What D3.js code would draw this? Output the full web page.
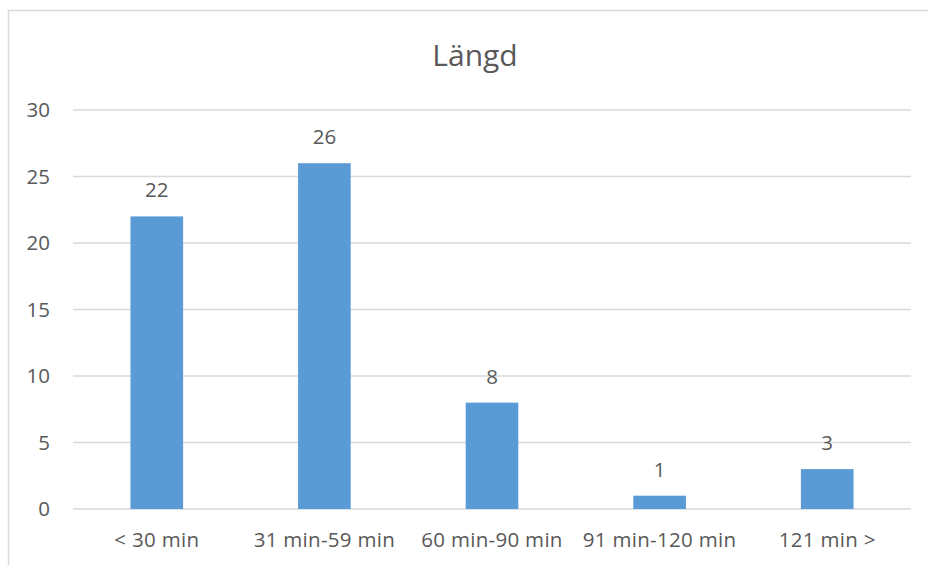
<!DOCTYPE html>
<html><head><meta charset="utf-8">
<script src="https://cdn.jsdelivr.net/npm/d3@7"></script>
<style>body{margin:0;background:#fff}svg{display:block}text{font-family:"Open Sans",sans-serif;fill:#595959}</style>
</head><body>
<svg id="c" width="928" height="565"></svg>
<script>
const categories = ["< 30 min","31 min-59 min","60 min-90 min","91 min-120 min","121 min >"];
const values = [22,26,8,1,3];
const yTicks = [0,5,10,15,20,25,30];
const title = "Längd";

const svg = d3.select("#c");
svg.append("rect").attr("x",8.5).attr("y",10.5).attr("width",940).attr("height",600)
  .attr("fill","none").attr("stroke","#d9d9d9").attr("stroke-width",1.5);

const m = {l:73, r:911, t:110, b:509};
const x = d3.scaleBand().domain(categories).range([m.l,m.r]).paddingInner(0.686).paddingOuter(0.343);
const y = d3.scaleLinear().domain([0,30]).range([m.b,m.t]);

svg.append("g").selectAll("line").data(yTicks).join("line")
  .attr("x1",m.l).attr("x2",m.r).attr("y1",d=>y(d)).attr("y2",d=>y(d))
  .attr("stroke","#d9d9d9").attr("stroke-width",1.3);

const fs = 20.5;
svg.append("g").selectAll("text").data(yTicks).join("text")
  .attr("x",50).attr("y",d=>y(d)+7).attr("text-anchor","end").attr("font-size",fs).text(d=>d);

svg.append("g").selectAll("rect").data(values).join("rect")
  .attr("x",(d,i)=>x(categories[i])).attr("width",x.bandwidth())
  .attr("y",d=>y(d)).attr("height",d=>y(0)-y(d)).attr("fill","#5b9bd5");

svg.append("g").selectAll("text").data(values).join("text")
  .attr("x",(d,i)=>x(categories[i])+x.bandwidth()/2).attr("y",d=>y(d)-19)
  .attr("text-anchor","middle").attr("font-size",fs).text(d=>d);

svg.append("g").selectAll("text").data(categories).join("text")
  .attr("x",d=>x(d)+x.bandwidth()/2).attr("y",547)
  .attr("text-anchor","middle").attr("font-size",fs).attr("letter-spacing",0.3).text(d=>d);

svg.append("text").attr("x",475).attr("y",66).attr("text-anchor","middle")
  .attr("font-size",30).text(title);
</script>
</body></html>
